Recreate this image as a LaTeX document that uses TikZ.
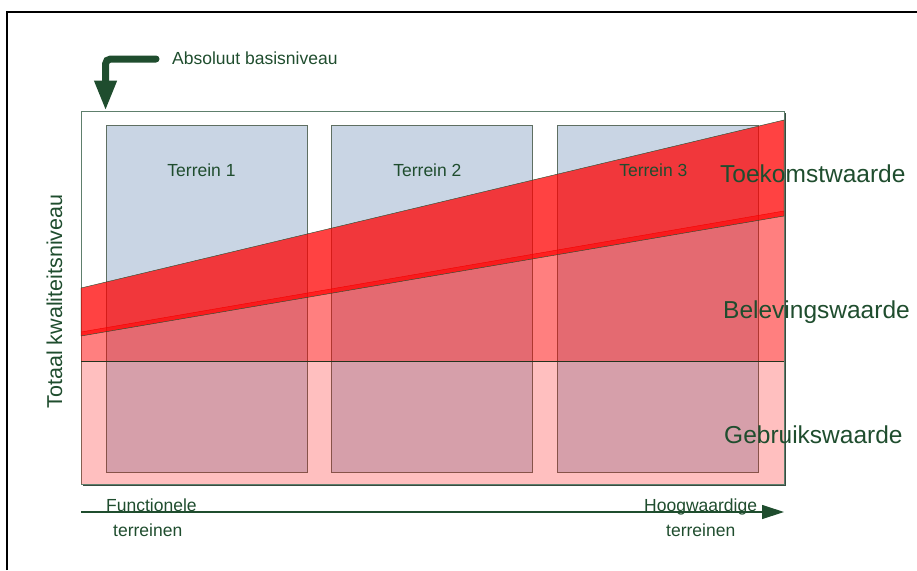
\documentclass[tikz,border=0pt]{standalone}
\usepackage{fontspec}
\setmainfont{Liberation Sans}
\usetikzlibrary{positioning}
\usetikzlibrary{arrows.meta}
\definecolor{darkgreen}{HTML}{1F4D2E}
\definecolor{boxline}{HTML}{5E7F6C}
\definecolor{terrfill}{HTML}{C9D5E4}
\definecolor{terrline}{HTML}{5F6F62}
\tikzset{
    lbl/.style={text=darkgreen, inner sep=0pt, font=\fontsize{17.5}{21}\selectfont},
    biglbl/.style={text=darkgreen, inner sep=0pt, font=\fontsize{24.5}{29}\selectfont},
    terrain/.style={draw=terrline, fill=terrfill, line width=0.9pt,
        minimum width=201pt, minimum height=347pt, inner sep=0pt}
}

\begin{document}
\begin{tikzpicture}[x=1pt, y=-1pt]
\useasboundingbox (0,0) rectangle (917,570);
% page frame
\draw[line width=2pt] (7,570) -- (7,12) -- (917,12);

% Plot area
\fill[boxline!60!black] (83,113) rectangle (786,486);
\node[draw=boxline,
    fill=white,
    line width=0.9pt,
    minimum width=703pt,
    minimum height=373pt,
    inner sep=0pt
] (plot) at (432.5,297.5) {};

% Terreinen
\node[terrain] (terr1) at (206.5,298.5) {};
\node[terrain, right=24pt of terr1] (terr2) {};
\node[terrain, right=24pt of terr2] (terr3) {};

% Gebruikswaarde
\fill[red, fill opacity=0.25] (81,361) rectangle (784,484);
\draw[darkgreen!70!black] (81,361) -- (784,361);

% Belevingswaarde
\fill[red, fill opacity=0.5] (81,332) -- (784,211) -- (784,361) -- (81,361) -- cycle;
\draw[red!85!black] (81,332) -- (784,211);

% Toekomstwaarde
\filldraw[draw=darkgreen, fill=red, fill opacity=0.74]
    (81,288) -- (784,120) -- (784,216) -- (81,336) -- cycle;

% Terrein labels
\node[lbl, anchor=base] (terr1lbl) at ([xshift=-5pt, yshift=-52pt]terr1.north) {Terrein 1};
\node[lbl, anchor=base] (terr2lbl) at ([xshift=-5pt, yshift=-52pt]terr2.north) {Terrein 2};
\node[lbl, anchor=base] (terr3lbl) at ([xshift=-5pt, yshift=-52pt]terr3.north) {Terrein 3};

% Labels right
\node[biglbl, anchor=base west] (toekomst) at (720,182) {Toekomstwaarde};
\node[biglbl, anchor=base west] (beleving) at (723,318) {Belevingswaarde};
\node[biglbl, anchor=base west] (gebruik) at (724,443) {Gebruikswaarde};

% Vertical axis label
\node[text=darkgreen,
    inner sep=0pt,
    font=\fontsize{21.5}{25}\selectfont,
    rotate=90,
    anchor=base
] (ylabel) at (62,301.5) {Totaal kwaliteitsniveau};

% Absoluut basisniveau
\node[lbl, anchor=base west] (absniv) at (172,64) {Absoluut basisniveau};
\coordinate (absstart) at ([xshift=-16pt]absniv.west |- 0,59);
\draw[darkgreen, line width=7pt, line cap=round, rounded corners=5pt,
    -{Triangle[width=21pt,length=30pt]}]
    (absstart) -| (terr1.west |- plot.north);

% Horizontal axis
\coordinate (axstart) at (81,512);
\coordinate (axend) at (784,512);
\draw[darkgreen, line width=1.2pt, -{Triangle[width=14pt,length=22pt]}] (axstart) -- (axend);

\node[lbl, anchor=base west] (funct) at (106,511) {Functionele};
\node[lbl, anchor=base west] (functer) at (113,536) {terreinen};
\node[lbl, anchor=base west] (hoogw) at (644,511) {Hoogwaardige};
\node[lbl, anchor=base west] (hoogwter) at (666,536) {terreinen};

\end{tikzpicture}
\end{document}
